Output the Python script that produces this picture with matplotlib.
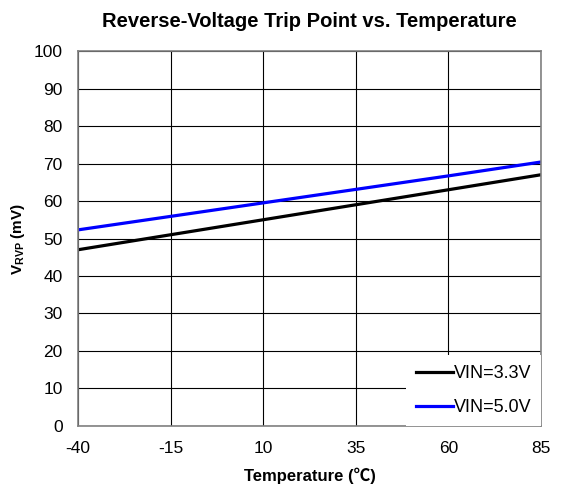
import numpy as np
import matplotlib.pyplot as plt

plt.rcParams['font.family'] = ['Liberation Sans', 'Noto Sans CJK SC', 'DejaVu Sans']
plt.rcParams['mathtext.fontset'] = 'custom'
plt.rcParams['mathtext.rm'] = 'Liberation Sans'
plt.rcParams['mathtext.bf'] = 'Liberation Sans:bold'
plt.rcParams['axes.unicode_minus'] = False

temp = [-40, -15, 10, 35, 60, 85]
vin33 = [47.0, 51.0, 55.0, 59.0, 63.0, 67.0]
vin50 = [52.3, 55.9, 59.5, 63.1, 66.7, 70.4]
xticks = [-40, -15, 10, 35, 60, 85]
yticks = np.arange(0, 101, 10)

fig = plt.figure(figsize=(5.62, 4.91), dpi=100)
ax = fig.add_axes([0.1388, 0.1324, 0.8238, 0.7637])

ax.plot(temp, vin33, color="black", lw=2.3, label="VIN=3.3V")
ax.plot(temp, vin50, color="#0000ff", lw=2.3, label="VIN=5.0V")

ax.set_xlim(-40, 85)
ax.set_ylim(0, 100)
ax.set_xticks(xticks)
ax.set_yticks(yticks)
ax.tick_params(length=0, labelsize=12.5, pad=11)
ax.grid(color="black", lw=0.8)
ax.set_axisbelow(True)
for s in ax.spines.values():
    s.set_color("#808080")
    s.set_linewidth(1.2)

ax.set_title("Reverse-Voltage Trip Point vs. Temperature", fontsize=14.5,
             fontweight="bold", pad=17)
ax.set_xlabel("Temperature (℃)", fontsize=12, fontweight="bold", labelpad=8)
ax.set_ylabel(r"$\mathbf{V_{RVP}}$ (mV)", fontsize=11, fontweight="bold", labelpad=5)

leg = ax.legend(loc="lower right", bbox_to_anchor=(1, 0), fontsize=13,
                fancybox=False, framealpha=1, edgecolor="none",
                handlelength=2.05, handletextpad=0.05, borderaxespad=0,
                labelspacing=0.95, borderpad=0.55)

fig.savefig("out.png", dpi=100)
